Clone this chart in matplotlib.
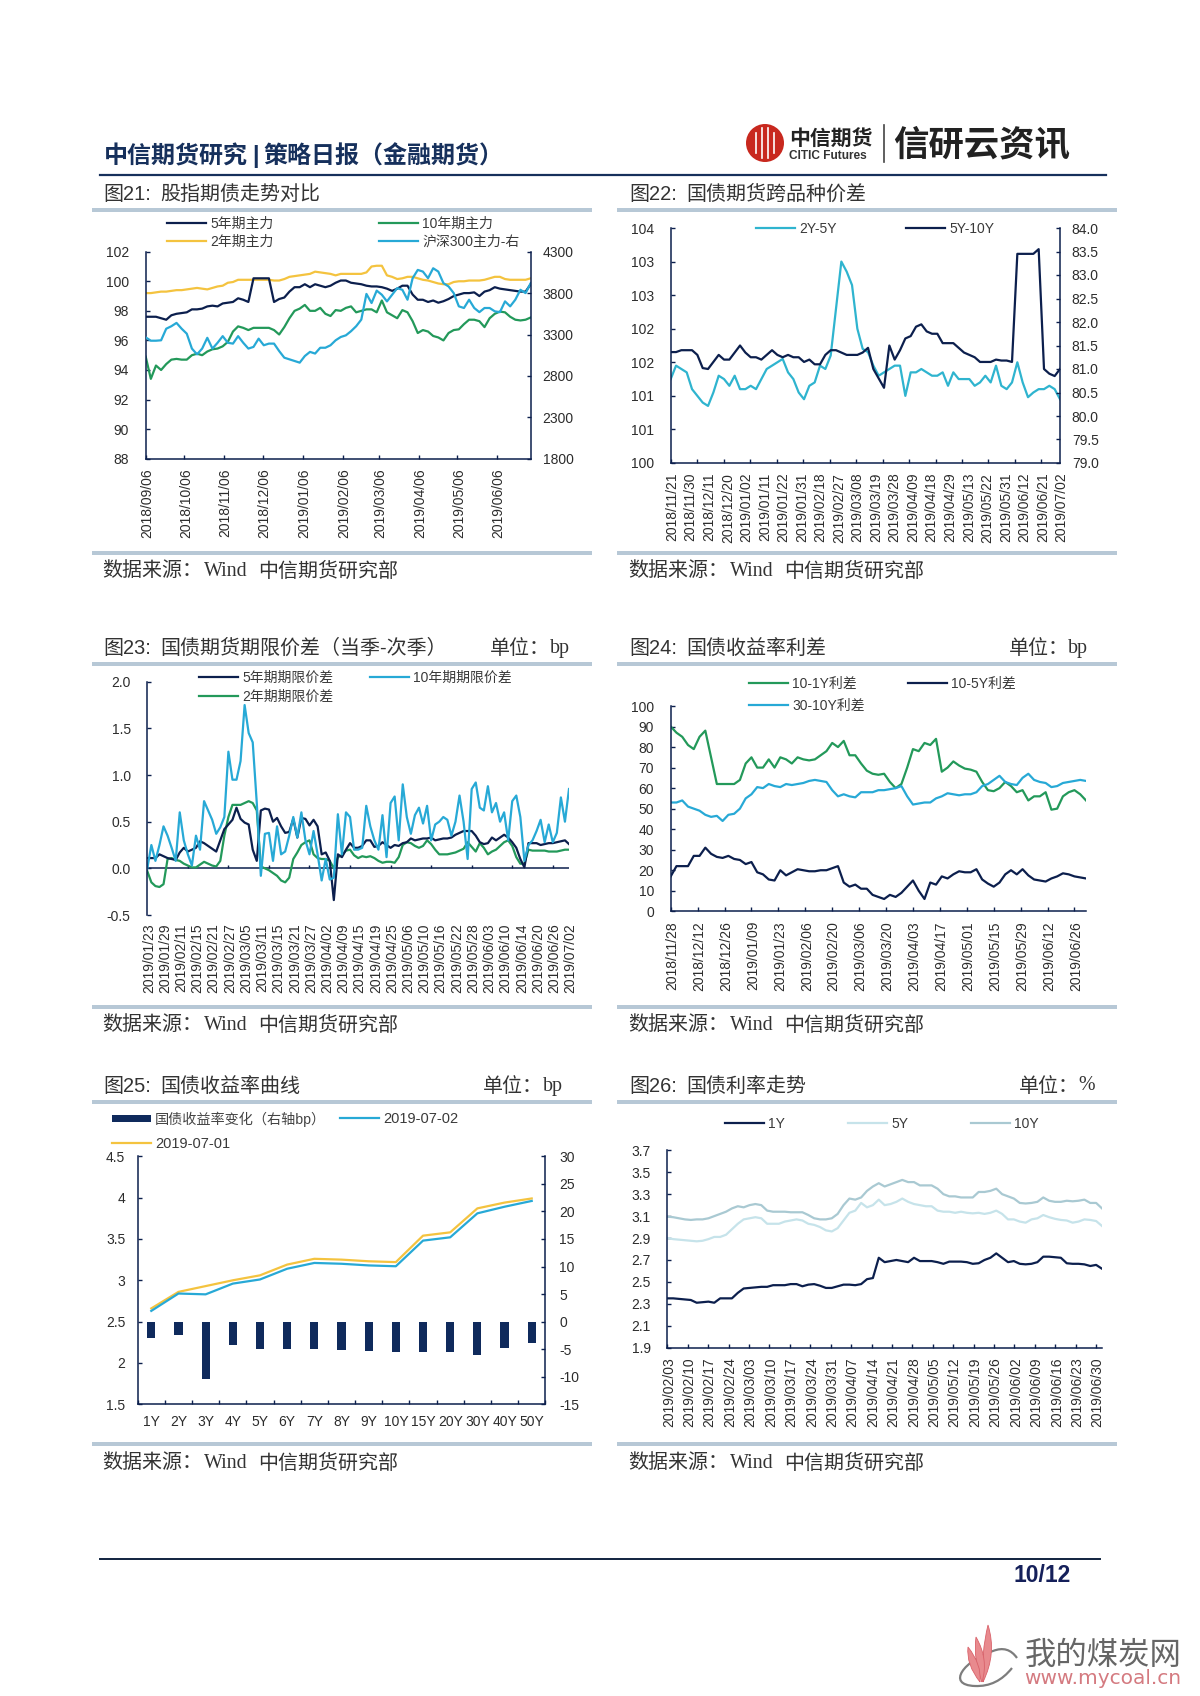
#!/usr/bin/env python
import matplotlib
matplotlib.use('Agg')
import matplotlib.pyplot as plt
from matplotlib.lines import Line2D
from matplotlib.patches import Circle, PathPatch, Rectangle
from matplotlib.path import Path
from matplotlib.transforms import ScaledTranslation
import numpy as np
import pandas as pd

plt.rcParams['font.family'] = ['Liberation Sans', 'Noto Sans CJK SC', 'DejaVu Sans']

NAVY = '#0c1f4d'
GREEN = '#23995a'
YELLOW = '#f4c33f'
BLUE = '#27a9d6'
TEAL = '#2fb4cf'
PALE1 = '#c6e3ea'
PALE2 = '#a9c9d2'
BAR = '#b7c8d6'
TXT = '#2c2c2c'

# chart 21
c21_ticks = ['2018/09/06', '2018/10/06', '2018/11/06', '2018/12/06', '2019/01/06',
             '2019/02/06', '2019/03/06', '2019/04/06', '2019/05/06', '2019/06/06']
c21_5y = [97.6, 97.6, 97.6, 97.5, 97.4, 97.7, 97.8, 97.85, 97.9, 98.1,
          98.1, 98.15, 98.3, 98.35, 98.3, 98.5, 98.55, 98.6, 98.85, 98.75,
          98.6, 100.2, 100.2, 100.2, 100.2, 98.6, 98.8, 98.9, 99.3, 99.6,
          99.6, 99.8, 99.6, 99.8, 99.7, 99.6, 99.7, 99.9, 100.05, 100.05,
          99.9, 99.85, 99.8, 99.7, 99.65, 99.65, 99.6, 99.5, 99.35, 99.5,
          99.7, 99.7, 99.1, 98.75, 98.75, 98.6, 98.7, 98.55, 98.65, 98.8,
          99.0, 99.1, 99.2, 99.2, 99.25, 99.0, 99.3, 99.4, 99.6, 99.5,
          99.45, 99.4, 99.35, 99.3, 99.3, 99.8]
c21_2y = [99.2, 99.2, 99.25, 99.3, 99.3, 99.35, 99.4, 99.4, 99.45, 99.5,
          99.55, 99.5, 99.45, 99.55, 99.65, 99.7, 99.9, 99.95, 100.1, 100.1,
          100.1, 100.1, 100.1, 100.1, 100.1, 100.05, 100.05, 100.15, 100.3, 100.35,
          100.4, 100.45, 100.5, 100.65, 100.6, 100.55, 100.5, 100.4, 100.5, 100.5,
          100.5, 100.5, 100.5, 100.6, 101.0, 101.05, 101.05, 100.4, 100.3, 100.15,
          100.2, 100.3, 100.3, 100.2, 100.1, 100.05, 99.95, 99.85, 99.8, 99.8,
          99.95, 100.0, 100.0, 100.05, 100.05, 100.05, 100.1, 100.2, 100.3, 100.3,
          100.15, 100.1, 100.1, 100.1, 100.1, 100.2]
c21_10y = [94.9, 93.4, 94.3, 94.0, 94.4, 94.7, 94.75, 94.7, 94.7, 95.0,
           95.1, 95.0, 95.25, 95.4, 95.45, 95.6, 95.9, 96.6, 96.95, 96.85,
           96.7, 96.85, 96.85, 96.85, 96.85, 96.7, 96.4, 96.9, 97.5, 98.0,
           98.15, 98.4, 98.0, 98.0, 98.2, 97.8, 97.65, 98.05, 98.0, 98.2,
           98.3, 97.9, 98.0, 98.1, 98.1, 97.9, 98.7, 97.9, 97.7, 97.5,
           98.05, 97.9, 97.3, 96.5, 96.7, 96.6, 96.3, 96.2, 96.0, 96.5,
           96.7, 96.75, 97.1, 97.4, 97.4, 97.3, 96.9, 97.5, 97.8, 97.95,
           97.9, 97.6, 97.4, 97.35, 97.4, 97.55]
c21_hs300 = [3265, 3225, 3225, 3230, 3370, 3400, 3440, 3370, 3310, 3130,
             3060, 3130, 3260, 3130, 3200, 3280, 3200, 3190, 3280, 3200,
             3130, 3150, 3250, 3170, 3190, 3190, 3100, 3020, 3000, 2980,
             2960, 3040, 3090, 3070, 3140, 3140, 3170, 3230, 3270, 3290,
             3340, 3400, 3480, 3790, 3680, 3830, 3780, 3700, 3780, 3860,
             3840, 3720, 3980, 4080, 4060, 3980, 4100, 4060, 3920, 3880,
             3800, 3640, 3620, 3720, 3620, 3570, 3620, 3620, 3580, 3570,
             3700, 3640, 3720, 3840, 3800, 3920]

# chart 22
c22_labels = ['2018/11/21', '2018/11/30', '2018/12/11', '2018/12/20', '2019/01/02', '2019/01/11',
              '2019/01/22', '2019/01/31', '2019/02/18', '2019/02/27', '2019/03/08', '2019/03/19',
              '2019/03/28', '2019/04/09', '2019/04/18', '2019/04/29', '2019/05/13', '2019/05/22',
              '2019/05/31', '2019/06/12', '2019/06/21', '2019/07/02']
c22_left = ['100', '101', '101', '102', '102', '103', '103', '104']
c22_2y5y = [101.25, 101.45, 101.4, 101.35, 101.1, 101.0, 100.9, 100.85, 101.05, 101.3,
            101.25, 101.15, 101.3, 101.1, 101.1, 101.15, 101.1, 101.25, 101.4, 101.45,
            101.5, 101.55, 101.35, 101.25, 101.05, 100.95, 101.15, 101.2, 101.45, 101.4,
            101.6, 102.3, 103.0, 102.85, 102.65, 102.0, 101.7, 101.65, 101.45, 101.3,
            101.35, 101.4, 101.45, 101.45, 101.0, 101.35, 101.35, 101.4, 101.35, 101.3,
            101.3, 101.35, 101.15, 101.35, 101.25, 101.25, 101.25, 101.15, 101.2, 101.3,
            101.2, 101.45, 101.15, 101.1, 101.2, 101.5, 101.2, 100.98, 101.05, 101.1,
            101.1, 101.15, 101.1, 100.95]
c22_5y10y = [81.36, 81.36, 81.4, 81.4, 81.4, 81.3, 81.02, 81.0, 81.15, 81.3,
             81.2, 81.2, 81.35, 81.5, 81.35, 81.25, 81.25, 81.2, 81.3, 81.4,
             81.3, 81.25, 81.3, 81.25, 81.25, 81.15, 81.2, 81.1, 81.1, 81.3,
             81.4, 81.4, 81.35, 81.3, 81.3, 81.3, 81.35, 81.45, 81.0, 80.8,
             80.6, 81.5, 81.2, 81.4, 81.65, 81.7, 81.9, 81.95, 81.8, 81.75,
             81.75, 81.55, 81.55, 81.55, 81.45, 81.35, 81.3, 81.25, 81.15, 81.15,
             81.15, 81.2, 81.18, 81.18, 81.15, 83.45, 83.45, 83.45, 83.45, 83.55,
             81.0, 80.9, 80.85, 81.0]

# chart 23
c23_labels = ['2019/01/23', '2019/01/29', '2019/02/11', '2019/02/15', '2019/02/21', '2019/02/27',
              '2019/03/05', '2019/03/11', '2019/03/15', '2019/03/21', '2019/03/27', '2019/04/02',
              '2019/04/09', '2019/04/15', '2019/04/19', '2019/04/25', '2019/05/06', '2019/05/10',
              '2019/05/16', '2019/05/22', '2019/05/28', '2019/06/03', '2019/06/10', '2019/06/14',
              '2019/06/20', '2019/06/26', '2019/07/02']
c23_5y = [0.11, 0.11, 0.11, 0.15, 0.13, 0.11, 0.1, 0.09, 0.17, 0.22,
          0.18, 0.2, 0.22, 0.29, 0.27, 0.24, 0.21, 0.18, 0.3, 0.42,
          0.47, 0.52, 0.65, 0.53, 0.49, 0.47, 0.2, 0.08, 0.62, 0.64,
          0.63, 0.5, 0.54, 0.45, 0.38, 0.39, 0.53, 0.33, 0.54, 0.53,
          0.46, 0.52, 0.45, 0.15, 0.17, 0.08, -0.34, 0.15, 0.12, 0.2,
          0.27, 0.22, 0.22, 0.24, 0.3, 0.3, 0.23, 0.24, 0.28, 0.25,
          0.22, 0.25, 0.24, 0.27, 0.28, 0.32, 0.3, 0.31, 0.32, 0.32,
          0.33, 0.3, 0.31, 0.32, 0.32, 0.33, 0.36, 0.38, 0.4, 0.4,
          0.4, 0.35, 0.28, 0.26, 0.27, 0.33, 0.3, 0.33, 0.36, 0.33,
          0.28, 0.22, 0.1, 0.01, 0.27, 0.27, 0.27, 0.25, 0.26, 0.27,
          0.27, 0.28, 0.29, 0.3, 0.26]
c23_10y = [0.0, 0.25, 0.08, 0.25, 0.45, 0.35, 0.22, 0.08, 0.6, 0.3,
           0.15, 0.03, 0.35, 0.2, 0.72, 0.62, 0.52, 0.37, 0.44, 0.55,
           1.25, 0.95, 0.95, 1.15, 1.75, 1.45, 1.35, 0.7, -0.08, 0.37,
           0.38, 0.08, 0.45, 0.15, 0.18, 0.35, 0.55, 0.33, 0.6, 0.3,
           0.15, 0.4, 0.15, -0.13, 0.1, -0.12, -0.1, 0.58, 0.15, 0.6,
           0.55, 0.2, 0.2, 0.22, 0.67, 0.45, 0.3, 0.2, 0.57, 0.12,
           0.7, 0.77, 0.3, 0.9, 0.55, 0.37, 0.57, 0.65, 0.48, 0.67,
           0.3, 0.47, 0.5, 0.55, 0.52, 0.35, 0.5, 0.78, 0.5, 0.1,
           0.85, 0.92, 0.65, 0.62, 0.88, 0.6, 0.7, 0.5, 0.6, 0.3,
           0.72, 0.78, 0.55, 0.08, 0.25, 0.3, 0.4, 0.52, 0.28, 0.47,
           0.28, 0.38, 0.76, 0.5, 0.85]
c23_2y = [-0.03, -0.15, -0.19, -0.2, -0.17, 0.1, 0.11, 0.09, 0.08, 0.05,
          0.03, 0.01, 0.01, 0.04, 0.07, 0.05, 0.03, 0.02, 0.08, 0.35,
          0.55, 0.68, 0.68, 0.68, 0.7, 0.72, 0.7, 0.62, 0.02, 0.0,
          -0.02, -0.05, -0.08, -0.13, -0.15, -0.1, 0.1, 0.17, 0.25, 0.28,
          0.3, 0.15, 0.11, 0.1, 0.1, 0.08, 0.0, 0.12, 0.14, 0.19,
          0.2, 0.14, 0.11, 0.13, 0.12, 0.13, 0.11, 0.08, 0.06, 0.07,
          0.07, 0.06, 0.12, 0.25, 0.28, 0.27, 0.24, 0.22, 0.24, 0.3,
          0.26, 0.2, 0.15, 0.15, 0.15, 0.16, 0.17, 0.19, 0.21, 0.28,
          0.23, 0.18, 0.27, 0.22, 0.15, 0.18, 0.2, 0.24, 0.28, 0.3,
          0.24, 0.12, 0.05, 0.05, 0.2, 0.19, 0.19, 0.19, 0.19, 0.18,
          0.18, 0.18, 0.19, 0.2, 0.2]

# chart 24
c24_ticks = ['2018/11/28', '2018/12/12', '2018/12/26', '2019/01/09', '2019/01/23', '2019/02/06',
             '2019/02/20', '2019/03/06', '2019/03/20', '2019/04/03', '2019/04/17', '2019/05/01',
             '2019/05/15', '2019/05/29', '2019/06/12', '2019/06/26']
c24_10_1 = [90, 87, 85, 81, 79, 85, 88, 75, 62, 62,
            62, 62, 64, 72, 75, 70, 70, 74, 70, 75,
            74, 72, 75, 74, 73.5, 74, 76, 78, 82, 80,
            83, 76, 76, 72, 68.5, 67, 66.5, 67, 63, 60,
            62, 70, 79, 78, 82, 81, 84, 68, 70, 73,
            71, 69.5, 69, 68, 63, 59, 58.5, 60, 63, 61,
            58, 59, 54, 56, 56, 58, 49.5, 50, 56, 58,
            59, 57, 54]
c24_30_10 = [53, 53, 54, 51, 50, 49, 47, 46, 46.5, 44,
             47, 47.5, 50, 55, 57, 60.5, 60, 62, 61, 60.5,
             62, 61.5, 62, 62.5, 63.5, 64, 63.5, 63, 59, 56,
             57, 56, 55.5, 58, 58, 58, 59, 59, 59.5, 60,
             61, 56, 52, 52.5, 53, 53, 55, 56, 57.5, 57,
             56.5, 57, 57, 58, 61, 62, 64, 66, 63, 62,
             61.5, 65, 67, 64, 63, 62.5, 60.5, 61, 62.5, 63,
             63.5, 64, 63.5]
c24_10_5 = [17, 22, 22, 22, 27, 27, 31, 28, 26.5, 26,
            27, 25.5, 25, 23, 24, 19, 18, 15.5, 15, 20,
            17.5, 19, 20.5, 20, 19.5, 19.5, 20, 20, 21, 22,
            14, 12, 13, 11, 11, 8, 7, 6, 8, 7,
            9, 12, 15, 10, 6, 14, 13, 17, 16, 18,
            19.5, 19, 19, 20.5, 15.5, 13.5, 12, 14, 18, 20,
            18, 20.5, 17.5, 15.5, 15, 14.5, 16, 17, 18.5, 18,
            17, 16.5, 16]

# chart 25
c25_terms = ['1Y', '2Y', '3Y', '4Y', '5Y', '6Y', '7Y', '8Y', '9Y', '10Y', '15Y', '20Y', '30Y', '40Y', '50Y']
c25_change = [-2.9, -2.5, -10.4, -4.2, -4.9, -5.0, -5.0, -5.2, -5.4, -5.5, -5.6, -5.6, -6.0, -4.7, -3.8]
c25_0702 = [2.63, 2.84, 2.83, 2.96, 3.01, 3.14, 3.21, 3.2, 3.18, 3.17, 3.48, 3.52, 3.81, 3.89, 3.96]
c25_0701 = [2.66, 2.86, 2.93, 3.0, 3.06, 3.19, 3.26, 3.25, 3.23, 3.22, 3.54, 3.58, 3.87, 3.94, 3.99]

# chart 26
c26_ticks = ['2019/02/03', '2019/02/10', '2019/02/17', '2019/02/24', '2019/03/03', '2019/03/10',
             '2019/03/17', '2019/03/24', '2019/03/31', '2019/04/07', '2019/04/14', '2019/04/21',
             '2019/04/28', '2019/05/05', '2019/05/12', '2019/05/19', '2019/05/26', '2019/06/02',
             '2019/06/09', '2019/06/16', '2019/06/23', '2019/06/30']
c26_1y = [2.35, 2.35, 2.345, 2.34, 2.335, 2.31, 2.315, 2.32, 2.31, 2.35,
          2.35, 2.35, 2.4, 2.44, 2.445, 2.45, 2.455, 2.455, 2.47, 2.47,
          2.47, 2.48, 2.48, 2.46, 2.475, 2.48, 2.465, 2.445, 2.445, 2.46,
          2.475, 2.475, 2.47, 2.48, 2.525, 2.535, 2.72, 2.68, 2.69, 2.7,
          2.69, 2.68, 2.72, 2.69, 2.69, 2.69, 2.68, 2.665, 2.685, 2.685,
          2.685, 2.68, 2.665, 2.67, 2.7, 2.72, 2.76, 2.72, 2.68, 2.69,
          2.665, 2.66, 2.665, 2.68, 2.73, 2.73, 2.725, 2.72, 2.67, 2.665,
          2.665, 2.66, 2.645, 2.655, 2.62]
c26_5y = [2.9, 2.89, 2.885, 2.88, 2.875, 2.87, 2.875, 2.89, 2.91, 2.91,
          2.93, 2.98, 3.03, 3.07, 3.08, 3.09, 3.08, 3.03, 3.03, 3.03,
          3.05, 3.06, 3.07, 3.06, 3.03, 3.02, 3.0, 2.97, 2.96, 2.99,
          3.06, 3.13, 3.15, 3.22, 3.18, 3.2, 3.25, 3.2, 3.21, 3.23,
          3.26, 3.23, 3.21, 3.2, 3.19, 3.19, 3.15, 3.14, 3.14, 3.13,
          3.14, 3.13, 3.125, 3.13, 3.12, 3.13, 3.15, 3.12, 3.07, 3.07,
          3.05, 3.04, 3.07, 3.08, 3.11, 3.09, 3.075, 3.065, 3.06, 3.04,
          3.05, 3.07, 3.065, 3.055, 3.01]
c26_10y = [3.095, 3.09, 3.08, 3.07, 3.065, 3.07, 3.07, 3.08, 3.1, 3.12,
           3.14, 3.17, 3.19, 3.18, 3.2, 3.21, 3.2, 3.15, 3.14, 3.14,
           3.14, 3.135, 3.135, 3.135, 3.11, 3.08, 3.07, 3.07, 3.08, 3.12,
           3.2, 3.26, 3.25, 3.27, 3.33, 3.37, 3.4, 3.37, 3.39, 3.41,
           3.43, 3.41, 3.41, 3.38, 3.38, 3.38, 3.35, 3.3, 3.28, 3.28,
           3.27, 3.27, 3.27, 3.32, 3.32, 3.33, 3.35, 3.3, 3.28, 3.26,
           3.22, 3.215, 3.22, 3.23, 3.27, 3.24, 3.23, 3.23, 3.24, 3.235,
           3.24, 3.25, 3.22, 3.22, 3.17]

W, H = 1200, 1696
LW = 1.6
fig = plt.figure(figsize=(W / 100, H / 100), dpi=100, facecolor='white')

# overlay in page pixels for the report furniture
page = fig.add_axes([0, 0, 1, 1], zorder=10)
page.set_xlim(0, W)
page.set_ylim(H, 0)
page.axis('off')
page.patch.set_alpha(0)


def make_axes(left, top, right, bottom, spines=('left', 'bottom')):
    ax = fig.add_axes([left / W, 1 - bottom / H, (right - left) / W, (bottom - top) / H])
    for s in ax.spines:
        ax.spines[s].set_visible(s in spines)
        ax.spines[s].set_color(NAVY)
        ax.spines[s].set_linewidth(1.1)
    ax.patch.set_alpha(0)
    ax.tick_params(axis='both', which='major', direction='in', length=3, width=1, color=NAVY,
                   labelsize=10, labelcolor=TXT)
    ax.tick_params(axis='y', pad=12)
    ax.tick_params(axis='x', pad=7)
    return ax


def right_axis(ax, lim, ticks, labels=None):
    ax2 = ax.twinx()
    for s in ax2.spines:
        ax2.spines[s].set_visible(s == 'right')
    ax2.spines['right'].set_color(NAVY)
    ax2.spines['right'].set_linewidth(1.1)
    ax2.patch.set_alpha(0)
    ax2.set_ylim(*lim)
    ax2.set_yticks(ticks)
    ax2.set_yticklabels(labels if labels else [str(t) for t in ticks])
    ax2.tick_params(axis='y', direction='in', length=3, width=1, color=NAVY, labelsize=10, labelcolor=TXT, pad=8.5)
    return ax2


def date_line(ax, start, end, values, color):
    x = pd.date_range(start, end, periods=len(values))
    ax.plot(x, values, color=color, lw=LW, solid_joinstyle='round')


def nudge(labels):
    # rotated labels sit a bit left of the tick otherwise
    shift = ScaledTranslation(1.5 / 100, 0, fig.dpi_scale_trans)
    for lab in labels:
        lab.set_transform(lab.get_transform() + shift)


def date_ticks(ax, labels):
    ax.set_xticks(pd.to_datetime(labels, format='%Y/%m/%d'))
    ax.set_xticklabels(labels, rotation=90)
    nudge(ax.get_xticklabels())


def legend_item(x0, y, label, color, size=10):
    page.add_line(Line2D([x0, x0 + 39], [y, y], color=color, lw=LW))
    page.text(x0 + 43, y + 1, label, fontsize=size, color='#3a3a3a', va='center', ha='left')


def title_block(x, prefix, title, y_title, y_bar, y_bar2, y_src, unit_x=None, unit_text=None, unit_text_x=None):
    page.text(x, y_title, prefix, fontsize=14.4, color='#333333', va='center', ha='left')
    page.text(x + 57, y_title, title, fontsize=14.4, color='#333333', va='center', ha='left')
    bar_x = 92 if x < 600 else 617
    page.add_patch(Rectangle((bar_x, y_bar - 2), 500, 4, color=BAR, lw=0))
    page.add_patch(Rectangle((bar_x, y_bar2 - 2), 500, 4, color=BAR, lw=0))
    page.text(x - 1, y_src, '数据来源：', fontsize=14.4, color='#333333', va='center', ha='left')
    page.text(x + 101, y_src, 'Wind', fontsize=14.4, color='#333333', va='center', ha='left', family='Liberation Serif')
    page.text(x + 155, y_src, '中信期货研究部', fontsize=14.4, color='#333333', va='center', ha='left')
    if unit_x:
        page.text(unit_x, y_title, '单位：', fontsize=14.4, color='#333333', va='center', ha='left')
        page.text(unit_text_x, y_title, unit_text, fontsize=14.4, color='#333333', va='center', ha='left',
                  family='Liberation Serif')


# chart 21
ax = make_axes(145.7, 251.7, 530.7, 458.7, ('left', 'bottom'))
ax.set_xlim(pd.Timestamp('2018-09-06'), pd.Timestamp('2019-07-02'))
ax.set_ylim(88, 102)
ax.set_yticks(range(88, 103, 2))
date_ticks(ax, c21_ticks)
ax2 = right_axis(ax, (1800, 4300), [1800, 2300, 2800, 3300, 3800, 4300])
date_line(ax, '2018-09-06', '2019-07-02', c21_10y, GREEN)
date_line(ax, '2018-09-06', '2019-07-02', c21_2y, YELLOW)
date_line(ax, '2018-09-06', '2019-07-02', c21_5y, NAVY)
date_line(ax2, '2018-09-06', '2019-07-02', c21_hs300, BLUE)
legend_item(167, 223, '5年期主力', NAVY)
legend_item(379, 223, '10年期主力', GREEN)
legend_item(167, 241, '2年期主力', YELLOW)
legend_item(379, 241, '沪深300主力-右', BLUE)

# chart 22: labels every 7 sessions, tick marks every 10
ax = make_axes(670.7, 228, 1060, 463, ('left', 'bottom'))
n22 = (len(c22_labels) - 1) * 7
ax.set_xlim(0, n22)
ax.set_ylim(100, 103.5)
ax.set_yticks(np.arange(100, 103.6, 0.5))
ax.set_yticklabels(c22_left)
ax.xaxis.remove_overlapping_locs = False
ax.set_xticks(np.arange(0, n22 + 1, 10))
ax.set_xticklabels([])
ax.set_xticks(np.arange(0, n22 + 1, 7), minor=True)
ax.set_xticklabels(c22_labels, minor=True, rotation=90)
ax.tick_params(axis='x', which='minor', length=0, labelsize=10, labelcolor=TXT, pad=7)
nudge(ax.get_xticklabels(minor=True))
ax2 = right_axis(ax, (79, 84), np.arange(79, 84.1, 0.5), ['%.1f' % v for v in np.arange(79, 84.1, 0.5)])
ax.plot(np.linspace(0, n22, len(c22_2y5y)), c22_2y5y, color=TEAL, lw=LW)
ax2.plot(np.linspace(0, n22, len(c22_5y10y)), c22_5y10y, color=NAVY, lw=LW)
legend_item(756, 228, '2Y-5Y', TEAL)
legend_item(906, 228, '5Y-10Y', NAVY)

# chart 23: baseline at zero, date labels stay at the bottom
ax = make_axes(147.3, 681.7, 569, 915, ('left',))
n23 = (len(c23_labels) - 1) * 4
ax.set_xlim(0, n23)
ax.set_ylim(-0.5, 2.0)
ax.set_yticks(np.arange(-0.5, 2.01, 0.5))
ax.set_yticklabels(['-0.5', '0.0', '0.5', '1.0', '1.5', '2.0'])
ax.set_xticks(np.arange(0, n23 + 1, 4))
ax.set_xticklabels(c23_labels, rotation=90)
ax.tick_params(axis='x', length=0, pad=6)
nudge(ax.get_xticklabels())
ax.axhline(0, color=NAVY, lw=1.1)
ax.vlines(np.arange(0, n23 + 1, 10), 0, 0.035, color=NAVY, lw=1)
ax.plot(np.arange(len(c23_2y)), c23_2y, color=GREEN, lw=LW)
ax.plot(np.arange(len(c23_5y)), c23_5y, color=NAVY, lw=LW)
ax.plot(np.arange(len(c23_10y)), c23_10y, color=BLUE, lw=LW)
legend_item(199, 677, '5年期期限价差', NAVY)
legend_item(370, 677, '10年期期限价差', BLUE)
legend_item(199, 696, '2年期期限价差', GREEN)

# chart 24
ax = make_axes(670.7, 706, 1086, 911.3)
ax.set_xlim(pd.Timestamp('2018-11-28'), pd.Timestamp('2019-07-02'))
ax.set_ylim(0, 100)
ax.set_yticks(range(0, 101, 10))
date_ticks(ax, c24_ticks)
date_line(ax, '2018-11-28', '2019-07-02', c24_10_1, GREEN)
date_line(ax, '2018-11-28', '2019-07-02', c24_30_10, BLUE)
date_line(ax, '2018-11-28', '2019-07-02', c24_10_5, NAVY)
legend_item(749, 683, '10-1Y利差', GREEN)
legend_item(908, 683, '10-5Y利差', NAVY)
legend_item(749, 705, '30-10Y利差', BLUE)

# chart 25
ax = make_axes(137.7, 1156.3, 545.3, 1404.3)
ax.set_xlim(-0.5, len(c25_terms) - 0.5)
ax.set_ylim(1.5, 4.5)
ax.set_yticks([1.5, 2, 2.5, 3, 3.5, 4, 4.5])
ax.set_yticklabels(['1.5', '2', '2.5', '3', '3.5', '4', '4.5'])
ax.set_xticks(np.arange(-0.5, len(c25_terms) - 0.4, 1))
ax.set_xticklabels([])
ax.set_xticks(np.arange(len(c25_terms)), minor=True)
ax.set_xticklabels(c25_terms, minor=True)
ax.tick_params(axis='x', which='minor', length=0, labelsize=10, labelcolor=TXT, pad=8)
ax.tick_params(axis='y', pad=9)
ax2 = right_axis(ax, (-15, 30), [-15, -10, -5, 0, 5, 10, 15, 20, 25, 30])
ax2.tick_params(axis='y', pad=10)
ax2.bar(np.arange(len(c25_terms)), c25_change, width=0.3, color='#0f2a5c')
ax.set_zorder(ax2.get_zorder() + 1)
ax.plot(np.arange(len(c25_terms)), c25_0701, color=YELLOW, lw=LW)
ax.plot(np.arange(len(c25_terms)), c25_0702, color=BLUE, lw=LW)
page.add_patch(Rectangle((112, 1115), 39, 7, color='#0f2a5c', lw=0))
page.text(155, 1119, '国债收益率变化（右轴bp）', fontsize=10.2, color='#444444', va='center', ha='left')
legend_item(340, 1118, '2019-07-02', BLUE, size=10.5)
legend_item(112, 1143, '2019-07-01', YELLOW, size=10.5)

# chart 26
ax = make_axes(667.3, 1150.3, 1102, 1347.7)
ax.set_xlim(pd.Timestamp('2019-02-03'), pd.Timestamp('2019-07-02'))
ax.set_ylim(1.9, 3.7)
ax.set_yticks(np.arange(1.9, 3.71, 0.2))
ax.set_yticklabels(['%.1f' % v for v in np.arange(1.9, 3.71, 0.2)])
date_ticks(ax, c26_ticks)
date_line(ax, '2019-02-03', '2019-07-02', c26_10y, PALE2)
date_line(ax, '2019-02-03', '2019-07-02', c26_5y, PALE1)
date_line(ax, '2019-02-03', '2019-07-02', c26_1y, NAVY)
legend_item(725, 1123, '1Y', NAVY)
legend_item(848, 1123, '5Y', PALE1)
legend_item(971, 1123, '10Y', PALE2)

# titles, bands, sources
title_block(103, '图21:', '股指期债走势对比', 194, 210, 553, 571)
title_block(629, '图22:', '国债期货跨品种价差', 194, 210, 553, 571)
title_block(103, '图23:', '国债期货期限价差（当季-次季）', 648, 664, 1007, 1025, 490, 'bp', 550)
title_block(629, '图24:', '国债收益率利差', 648, 664, 1007, 1025, 1009, 'bp', 1068)
title_block(103, '图25:', '国债收益率曲线', 1086, 1102, 1444, 1463, 483, 'bp', 543)
title_block(629, '图26:', '国债利率走势', 1086, 1102, 1444, 1463, 1019, '%', 1078)

# page header
page.text(104, 157, '中信期货研究', fontsize=17.3, fontweight='bold', color='#16305c', va='center')
page.text(256, 156, '|', fontsize=17, fontweight='bold', color='#16305c', va='center', ha='center')
page.text(263, 157, '策略日报（金融期货）', fontsize=17.3, fontweight='bold', color='#16305c', va='center')
page.add_line(Line2D([100, 1106], [175, 175], color='#16305c', lw=1.6))

# logo
page.add_patch(Circle((765, 143), 19, color='#c8281e', lw=0, zorder=3))
for dx, half in [(-9, 10), (-3, 15), (3, 15), (9, 10)]:
    page.add_line(Line2D([765 + dx, 765 + dx], [143 - half, 143 + half], color='white', lw=1.2, zorder=4))
page.text(789, 139, '中信期货', fontsize=15, fontweight='bold', color='#222222', va='center')
page.text(789, 156, 'CITIC Futures', fontsize=8.6, fontweight='bold', color='#333333', va='center')
page.add_line(Line2D([884, 884], [125, 162], color='#444444', lw=1.2))
page.text(893, 145, '信研云资讯', fontsize=25.5, fontweight='bold', color='#222222', va='center')

# footer
page.add_line(Line2D([100, 1100], [1559, 1559], color='#10233f', lw=1.4))
page.text(1042, 1576, '10/12', fontsize=16.5, fontweight='bold', color='#15205a', va='center', ha='center')


def flame(tip, base, side):
    mid = (base[1] + tip[1]) / 2
    verts = [base, (base[0] + side, mid), tip, (base[0] + side - 16, mid), base]
    codes = [Path.MOVETO, Path.CURVE3, Path.CURVE3, Path.CURVE3, Path.CURVE3]
    return Path(verts, codes)


swoosh = Path([(1017, 1658), (1008, 1645), (993, 1651), (965, 1660), (945, 1685), (975, 1686), (997, 1687), (1012, 1668)],
              [Path.MOVETO, Path.CURVE3, Path.CURVE3, Path.CURVE4, Path.CURVE4, Path.CURVE4, Path.CURVE3, Path.CURVE3])
page.add_patch(PathPatch(swoosh, facecolor='none', edgecolor='#7d7d7d', lw=1.6, zorder=2))
for tip, base, side in [((988, 1625), (983, 1682), 14), ((976, 1637), (982, 1682), 7),
                        ((968, 1647), (980, 1682), 2)]:
    page.add_patch(PathPatch(flame(tip, base, side), facecolor='#e88a8e', edgecolor='#d9626a', lw=0.6, zorder=3))
page.text(1103, 1656, '我的煤炭网', fontsize=22.6, color='#666666', va='center', ha='center')
page.text(1103, 1678, 'www.mycoal.cn', fontsize=14.5, color='#d47a80', va='center', ha='center', family='DejaVu Sans')

fig.savefig('out.png', dpi=100, facecolor='white')
